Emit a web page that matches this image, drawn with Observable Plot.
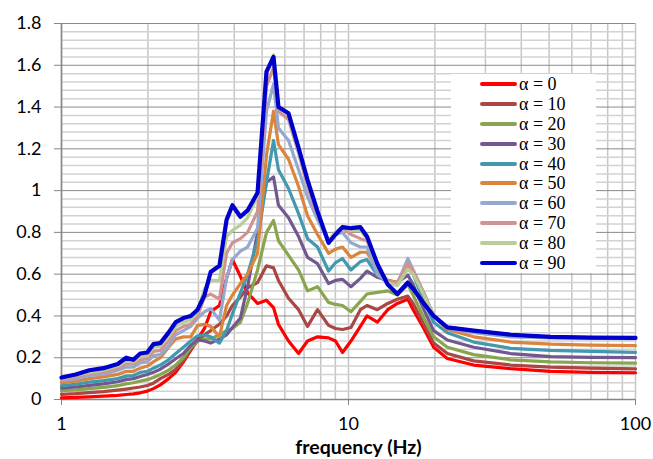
<!DOCTYPE html>
<html><head><meta charset="utf-8">
<script src="https://cdn.jsdelivr.net/npm/d3@7"></script>
<script src="https://cdn.jsdelivr.net/npm/@observablehq/plot@0.6"></script>
<style>
body{margin:0;background:#fff;}
#wrap{position:relative;width:653px;height:459px;overflow:hidden;background:#fff;}
#legend{position:absolute;left:451px;top:74px;width:145px;height:199px;background:#fff;}
.row{display:flex;align-items:center;height:19.9px;}
.row svg{margin-left:29px;flex:none;}
</style></head><body><div id="wrap"></div>
<script>
// frequency (Hz)
const freq = [1.00, 1.12, 1.25, 1.40, 1.57, 1.68, 1.78, 1.88, 1.99, 2.09, 2.21, 2.36, 2.50, 2.66, 2.82, 2.98, 3.15, 3.31, 3.55, 3.76, 3.94, 4.20, 4.45, 4.82, 5.18, 5.48, 5.70, 6.18, 6.70, 7.20, 7.80, 8.52, 9.01, 9.53, 10.2, 11.0, 11.6, 12.6, 13.7, 14.8, 16.1, 16.8, 18.3, 19.8, 22.1, 27.3, 36.7, 50.6, 69.7, 100];
const alphas = [0, 10, 20, 30, 40, 50, 60, 70, 80, 90];
const colors = ["#FF0000", "#AA4643", "#89A54E", "#71588F", "#4198AF", "#DB843D", "#93A9CF", "#D19392", "#B9CD96", "#0000CC"];

const a0 = [0.008, 0.010, 0.013, 0.016, 0.020, 0.024, 0.027, 0.032, 0.040, 0.052, 0.07, 0.10, 0.13, 0.18, 0.235, 0.29, 0.34, 0.42, 0.45, 0.58, 0.67, 0.59, 0.51, 0.46, 0.475, 0.44, 0.36, 0.28, 0.22, 0.28, 0.30, 0.295, 0.28, 0.225, 0.28, 0.35, 0.40, 0.37, 0.43, 0.46, 0.48, 0.43, 0.34, 0.25, 0.196, 0.165, 0.148, 0.135, 0.13, 0.128];
const a10 = [0.025, 0.028, 0.033, 0.038, 0.045, 0.05, 0.055, 0.06, 0.067, 0.078, 0.10, 0.12, 0.145, 0.187, 0.24, 0.28, 0.31, 0.33, 0.36, 0.40, 0.45, 0.49, 0.535, 0.56, 0.64, 0.63, 0.57, 0.485, 0.43, 0.35, 0.43, 0.355, 0.34, 0.335, 0.345, 0.43, 0.45, 0.43, 0.46, 0.48, 0.495, 0.46, 0.36, 0.27, 0.22, 0.185, 0.165, 0.155, 0.15, 0.147];
const a20 = [0.042, 0.046, 0.052, 0.058, 0.066, 0.075, 0.08, 0.088, 0.095, 0.105, 0.12, 0.14, 0.165, 0.20, 0.25, 0.28, 0.29, 0.29, 0.31, 0.33, 0.34, 0.37, 0.46, 0.62, 0.80, 0.857, 0.76, 0.69, 0.62, 0.52, 0.54, 0.465, 0.455, 0.45, 0.42, 0.47, 0.505, 0.513, 0.52, 0.50, 0.55, 0.50, 0.39, 0.30, 0.25, 0.215, 0.19, 0.18, 0.176, 0.174];
const a30 = [0.054, 0.06, 0.068, 0.075, 0.085, 0.095, 0.10, 0.11, 0.12, 0.13, 0.145, 0.17, 0.195, 0.22, 0.26, 0.285, 0.28, 0.27, 0.29, 0.31, 0.345, 0.39, 0.54, 0.80, 1.04, 1.065, 0.93, 0.87, 0.78, 0.68, 0.65, 0.555, 0.57, 0.575, 0.54, 0.58, 0.615, 0.585, 0.57, 0.56, 0.595, 0.55, 0.43, 0.33, 0.285, 0.25, 0.22, 0.205, 0.202, 0.20];
const a40 = [0.066, 0.073, 0.083, 0.09, 0.10, 0.112, 0.115, 0.13, 0.135, 0.15, 0.165, 0.19, 0.22, 0.25, 0.28, 0.305, 0.31, 0.30, 0.27, 0.33, 0.41, 0.51, 0.60, 0.76, 1.04, 1.24, 1.10, 1.01, 0.89, 0.77, 0.73, 0.615, 0.655, 0.675, 0.62, 0.66, 0.67, 0.595, 0.56, 0.55, 0.63, 0.60, 0.47, 0.37, 0.32, 0.275, 0.245, 0.235, 0.23, 0.226];
const a50 = [0.08, 0.088, 0.10, 0.108, 0.12, 0.135, 0.135, 0.15, 0.16, 0.18, 0.20, 0.25, 0.29, 0.30, 0.30, 0.355, 0.36, 0.35, 0.30, 0.45, 0.50, 0.555, 0.60, 0.70, 1.17, 1.38, 1.22, 1.15, 1.02, 0.88, 0.79, 0.70, 0.72, 0.73, 0.68, 0.705, 0.705, 0.62, 0.57, 0.56, 0.65, 0.61, 0.50, 0.40, 0.335, 0.30, 0.275, 0.265, 0.26, 0.258];
const a60 = [0.09, 0.10, 0.115, 0.12, 0.14, 0.155, 0.155, 0.175, 0.18, 0.21, 0.215, 0.255, 0.31, 0.33, 0.35, 0.39, 0.42, 0.435, 0.38, 0.58, 0.67, 0.71, 0.73, 0.82, 1.38, 1.51, 1.30, 1.24, 1.10, 0.97, 0.86, 0.76, 0.79, 0.80, 0.75, 0.73, 0.73, 0.60, 0.56, 0.555, 0.675, 0.62, 0.51, 0.40, 0.34, 0.32, 0.30, 0.295, 0.292, 0.291];
const a70 = [0.095, 0.11, 0.125, 0.13, 0.15, 0.17, 0.17, 0.19, 0.195, 0.23, 0.235, 0.28, 0.33, 0.35, 0.36, 0.40, 0.49, 0.505, 0.48, 0.70, 0.75, 0.77, 0.80, 0.90, 1.50, 1.59, 1.38, 1.34, 1.18, 1.02, 0.88, 0.76, 0.80, 0.82, 0.79, 0.77, 0.76, 0.64, 0.565, 0.56, 0.655, 0.615, 0.51, 0.40, 0.345, 0.33, 0.31, 0.30, 0.296, 0.295];
const a80 = [0.10, 0.115, 0.13, 0.14, 0.16, 0.185, 0.18, 0.205, 0.21, 0.25, 0.255, 0.30, 0.35, 0.37, 0.38, 0.42, 0.53, 0.57, 0.57, 0.78, 0.81, 0.835, 0.87, 0.975, 1.56, 1.65, 1.40, 1.36, 1.19, 1.04, 0.89, 0.76, 0.80, 0.83, 0.81, 0.81, 0.77, 0.64, 0.56, 0.545, 0.625, 0.60, 0.50, 0.40, 0.345, 0.33, 0.31, 0.30, 0.296, 0.295];
const a90 = [0.105, 0.12, 0.14, 0.15, 0.17, 0.20, 0.19, 0.22, 0.225, 0.265, 0.27, 0.32, 0.37, 0.39, 0.40, 0.43, 0.50, 0.61, 0.64, 0.86, 0.93, 0.875, 0.905, 0.99, 1.57, 1.64, 1.40, 1.37, 1.205, 1.05, 0.90, 0.75, 0.79, 0.825, 0.82, 0.825, 0.78, 0.65, 0.55, 0.505, 0.56, 0.53, 0.46, 0.40, 0.345, 0.33, 0.31, 0.30, 0.296, 0.295];
const seriesValues = [a0, a10, a20, a30, a40, a50, a60, a70, a80, a90];

const xTicks = [1, 10, 100];
const xTickLabels = ["1", "10", "100"];
const yTicks = [0, 0.2, 0.4, 0.6, 0.8, 1, 1.2, 1.4, 1.6, 1.8];
const yTickLabels = ["0", "0.2", "0.4", "0.6", "0.8", "1", "1.2", "1.4", "1.6", "1.8"];
const xTitle = "frequency (Hz)";

const rows = seriesValues.flatMap((vals, i) => vals.map((v, j) => ({f: freq[j], v, a: alphas[i]})));
const xGrid = [1,2,3,4,5,6,7,8,9,10,20,30,40,50,60,70,80,90,100];
const yMinor = d3.range(0, 46).map(k => k * 0.04).filter(v => Math.abs(v / 0.2 - Math.round(v / 0.2)) > 1e-6);

const lineMarks = alphas.map((a, i) => Plot.line(rows.filter(r => r.a === a), {
  x: "f", y: "v", stroke: colors[i], strokeWidth: a === 90 ? 4.2 : 3.2,
  strokeLinejoin: "round", strokeLinecap: "round"
}));

const chart = Plot.plot({
  width: 653, height: 459,
  marginLeft: 61, marginRight: 18, marginTop: 23, marginBottom: 60,
  x: {type: "log", domain: [1, 100]},
  y: {domain: [0, 1.8]},
  style: {fontFamily: "Lato, 'Open Sans', sans-serif", fontSize: "18px", color: "#000", background: "#fff", overflow: "hidden"},
  marks: [
    Plot.ruleX(xGrid, {stroke: "#c6c6c6", strokeWidth: 1.5}),
    Plot.ruleY(yMinor, {stroke: "#d2d2d2", strokeWidth: 1.5}),
    Plot.ruleY(yTicks, {stroke: "#8a8a8a", strokeWidth: 1}),
    Plot.ruleX([1], {stroke: "#868686", strokeWidth: 1.5}),
    Plot.ruleY([0], {stroke: "#868686", strokeWidth: 1.5}),
    Plot.axisY({ticks: yTicks, tickFormat: (d) => yTickLabels[yTicks.indexOf(d)], tickSize: 7, tickPadding: 13, stroke: "#868686", label: null}),
    Plot.axisX({ticks: xTicks, tickFormat: (d) => xTickLabels[xTicks.indexOf(d)], tickSize: 6, tickPadding: 12, stroke: "#868686", label: null}),
    ...lineMarks,
    Plot.text([xTitle], {text: d => d, frameAnchor: "bottom", dy: 54, dx: 10, lineAnchor: "bottom", fontWeight: "bold", fontSize: 19.5, fill: "#000"})
  ]
});

const wrap = document.getElementById("wrap");
wrap.appendChild(chart);

const legend = document.createElement("div");
legend.id = "legend";
alphas.forEach((a, i) => {
  const row = document.createElement("div");
  row.className = "row";
  const sw = d3.create("svg").attr("width", 37).attr("height", 6);
  sw.append("line").attr("x1", 2).attr("x2", 35).attr("y1", 3).attr("y2", 3)
    .attr("stroke", colors[i]).attr("stroke-width", 4).attr("stroke-linecap", "round");
  row.appendChild(sw.node());
  const t = document.createElement("span");
  t.style.fontFamily = "'Liberation Serif', 'Times New Roman', serif";
  t.style.fontSize = "18px";
  t.style.marginLeft = "2px";
  t.style.lineHeight = "1";
  t.style.whiteSpace = "nowrap";
  t.textContent = "\u03B1 = " + a;
  row.appendChild(t);
  legend.appendChild(row);
});
wrap.appendChild(legend);
</script>
</body></html>
